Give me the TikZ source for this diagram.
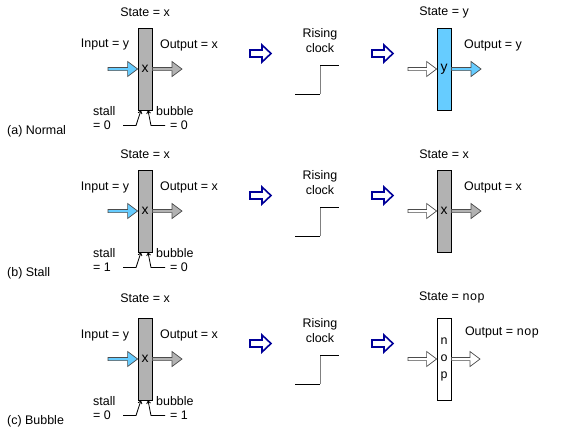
\documentclass[tikz,border=0pt]{standalone}
\usepackage{fontspec}
\setmainfont{Liberation Sans}
\setmonofont{Liberation Mono}
\usetikzlibrary{calc,arrows.meta}
\definecolor{regcyan}{RGB}{102,204,255}
\definecolor{reggray}{RGB}{178,178,178}
\definecolor{clkblue}{RGB}{0,0,153}

\tikzset{
  lbl/.style={font=\fontsize{12.5}{15}\selectfont, inner sep=0pt},
  reg/.style={draw, line width=0.8bp, minimum width=14bp, minimum height=82bp, inner sep=0pt, font=\fontsize{14}{17}\selectfont},
  fatline/.style={draw=black!70, line width=0.7bp, line join=miter},
  ctl/.style={line width=0.8bp, -{Straight Barb[length=2.5bp,width=4bp]}},
  clk/.style={line width=0.8bp},
}

% hollow pipeline arrow from #2 to #3, filled with #1
\newcommand{\fatarrow}[3]{%
  \draw[fatline, fill=#1] ($(#2)+(0,-1.6)$) -- ($(#3)+(-10,-1.6)$) -- ($(#3)+(-10,-7.5)$)
    -- (#3) -- ($(#3)+(-10,7.5)$) -- ($(#3)+(-10,1.6)$) -- ($(#2)+(0,1.6)$) -- cycle;}
% blue step arrow starting at #1
\newcommand{\steparrow}[1]{%
  \draw[clkblue, line width=1.6bp, fill=white, line join=miter] ($(#1)+(0,-3.5)$) -- ++(12,0)
    -- ++(0,-5) -- ++(9,8.5) -- ++(-9,8.5) -- ++(0,-5) -- ++(-12,0) -- cycle;}

\begin{document}
\begin{tikzpicture}[x=1bp, y=-1bp]
  \useasboundingbox (0,0) rectangle (573,431);

  % left stage and rising clock, same in every row
  \foreach \r/\dy/\sy/\sv/\bv/\lab in {a/0/12/0/0/Normal, b/142/12/1/0/Stall, c/290/8/0/1/Bubble} {
    \begin{scope}[shift={(0,\dy)}]
      \node[lbl] (st\r) at (145,\sy) {State = x};
      \node[reg, fill=reggray] (reg\r) at (145,69) {x};
      \node[lbl] (in\r) at (105,45) {Input = y};
      \node[lbl] (out\r) at (189,45) {Output = x};
      \coordinate (i\r) at (108,69);
      \coordinate (o\r) at (182,69);
      \fatarrow{regcyan}{i\r}{reg\r.west}
      \fatarrow{reggray}{reg\r.east}{o\r}

      \node[lbl, anchor=west] (stl\r) at (93,111) {stall};
      \node[lbl, anchor=west] (stv\r) at (93,125) {= \sv};
      \node[lbl, anchor=west] (bub\r) at (156,111) {bubble};
      \node[lbl, anchor=east] (bubv\r) at (188,125) {= \bv};
      \coordinate (s\r) at (123,125.5);
      \coordinate (b\r) at (165,125.5);
      \draw[ctl] (s\r) -- ++(13,0) -- ($(reg\r.south)+(-4,0)$);
      \draw[ctl] (b\r) -- ++(-14,0) -- ($(reg\r.south)+(3,0)$);
      \node[lbl, anchor=west] (row\r) at (7,131) {(\r) \lab};

      \coordinate (ba\r) at (250,53.5);
      \steparrow{ba\r}
      \node[lbl, align=center] (rc\r) at (320,40.5) {Rising\\clock};
      \coordinate (c\r) at (295,94);
      \draw[clk] (c\r) -- ++(25,0);
      \draw[clk, gray] ($(c\r)+(25,0)$) -- ++(0,-29);
      \draw[clk] ($(c\r)+(25,-29)$) -- ++(19,0);
      \coordinate (bb\r) at (372,53.5);
      \steparrow{bb\r}
    \end{scope}
  }

  % right stage (a)
  \node[lbl] (sta) at (444,12) {State = y};
  \node[reg, fill=regcyan] (nra) at (444,69) {y};
  \node[lbl] (ota) at (493,45) {Output = y};
  \coordinate (nia) at (408,69);
  \coordinate (noa) at (481,69);
  \fatarrow{white}{nia}{nra.west}
  \fatarrow{regcyan}{nra.east}{noa}

  % right stage (b)
  \begin{scope}[shift={(0,142)}]
    \node[lbl] (stb) at (444,12) {State = x};
    \node[reg, fill=reggray] (nrb) at (444,69) {x};
    \node[lbl] (otb) at (493,45) {Output = x};
    \coordinate (nib) at (408,69);
    \coordinate (nob) at (481,69);
    \fatarrow{white}{nib}{nrb.west}
    \fatarrow{reggray}{nrb.east}{nob}
  \end{scope}

  % right stage (c)
  \begin{scope}[shift={(0,290)}]
    \node[lbl] (stc) at (452,7) {State = \texttt{nop}};
    \node[reg, fill=white, align=center, font=\fontsize{12.5}{17}\selectfont\ttfamily] (nrc) at (444,69) {n\\o\\p};
    \node[lbl] (otc) at (502,42) {Output = \texttt{nop}};
    \coordinate (nic) at (408,69);
    \coordinate (noc) at (480,69);
    \fatarrow{white}{nic}{nrc.west}
    \fatarrow{white}{nrc.east}{noc}
  \end{scope}
\end{tikzpicture}
\end{document}
